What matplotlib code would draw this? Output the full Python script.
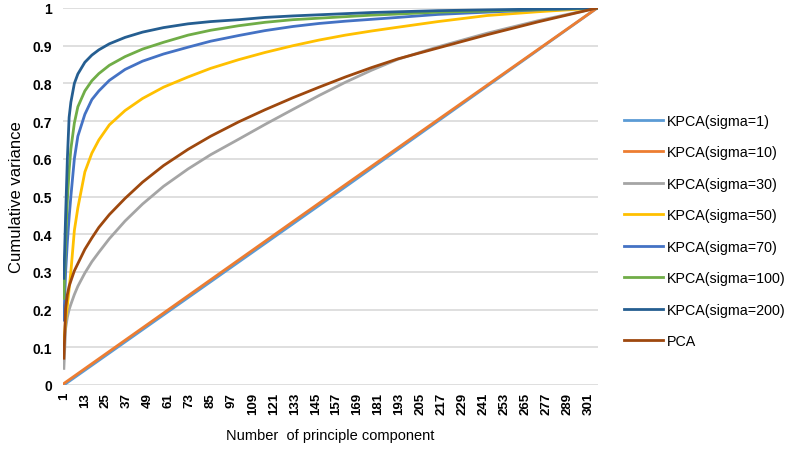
import matplotlib
matplotlib.use("Agg")
import matplotlib.pyplot as plt

plt.rcParams['font.family'] = ['Liberation Sans', 'DejaVu Sans']

# sampled principal component numbers
comp = [1, 2, 3, 4, 5, 7, 9, 13, 17, 21, 27, 36, 46, 58, 72, 85, 101, 116,
        132, 147, 162, 177, 192, 215, 243, 272, 306]
comp_lin = [1, 153, 306]

sigma1 = [0.0, 0.496, 1.0]
sigma10 = [0.004, 0.502, 1.0]
sigma30 = [0.044, 0.15, 0.18, 0.20, 0.214, 0.24, 0.262, 0.297, 0.327, 0.352,
           0.388, 0.435, 0.48, 0.527, 0.573, 0.611, 0.652, 0.691, 0.731,
           0.768, 0.803, 0.835, 0.864, 0.897, 0.933, 0.966, 1.0]
sigma50 = [0.115, 0.17, 0.21, 0.255, 0.30, 0.41, 0.47, 0.565, 0.615, 0.65,
           0.69, 0.728, 0.76, 0.79, 0.817, 0.84, 0.863, 0.882, 0.900,
           0.915, 0.928, 0.939, 0.949, 0.964, 0.980, 0.990, 1.0]
sigma70 = [0.172, 0.30, 0.38, 0.445, 0.50, 0.60, 0.66, 0.718, 0.757, 0.78,
           0.808, 0.837, 0.859, 0.878, 0.896, 0.912, 0.927, 0.94, 0.951,
           0.959, 0.965, 0.970, 0.975, 0.983, 0.989, 0.995, 1.0]
sigma100 = [0.23, 0.38, 0.49, 0.57, 0.626, 0.695, 0.738, 0.78, 0.807, 0.826,
            0.848, 0.871, 0.891, 0.909, 0.928, 0.941, 0.953, 0.962, 0.969,
            0.973, 0.977, 0.981, 0.984, 0.989, 0.992, 0.996, 1.0]
sigma200 = [0.283, 0.45, 0.60, 0.71, 0.75, 0.80, 0.825, 0.856, 0.875, 0.889,
            0.905, 0.922, 0.936, 0.948, 0.958, 0.964, 0.969, 0.975, 0.979,
            0.982, 0.985, 0.988, 0.990, 0.993, 0.995, 0.997, 1.0]
pca = [0.071, 0.203, 0.24, 0.262, 0.276, 0.303, 0.322, 0.36, 0.39, 0.418,
       0.452, 0.495, 0.538, 0.582, 0.625, 0.66, 0.698, 0.73, 0.762, 0.79,
       0.817, 0.842, 0.865, 0.894, 0.929, 0.963, 1.0]

xticks = list(range(1, 302, 12))
yticks = [0, 0.1, 0.2, 0.3, 0.4, 0.5, 0.6, 0.7, 0.8, 0.9, 1]
ylabels = ['0', '0.1', '0.2', '0.3', '0.4', '0.5', '0.6', '0.7', '0.8', '0.9', '1']

fig = plt.figure(figsize=(7.89, 4.52), dpi=100)
ax = fig.add_axes([63 / 789, 1 - 386 / 452, (598 - 63) / 789, (386 - 9) / 452])

lw = 2.0
ax.plot(comp_lin, sigma1, color='#5B9BD5', lw=lw, label='KPCA(sigma=1)')
ax.plot(comp_lin, sigma10, color='#ED7D31', lw=lw, label='KPCA(sigma=10)')
ax.plot(comp, sigma30, color='#A5A5A5', lw=lw, label='KPCA(sigma=30)')
ax.plot(comp, sigma50, color='#FFC000', lw=lw, label='KPCA(sigma=50)')
ax.plot(comp, sigma70, color='#4472C4', lw=lw, label='KPCA(sigma=70)')
ax.plot(comp, sigma100, color='#70AD47', lw=lw, label='KPCA(sigma=100)')
ax.plot(comp, sigma200, color='#255E91', lw=lw, label='KPCA(sigma=200)')
ax.plot(comp, pca, color='#9E480E', lw=lw, label='PCA')

ax.set_xlim(0.5, 306.5)
ax.set_ylim(0, 1)
ax.set_xticks(xticks)
ax.set_xticklabels([str(t) for t in xticks], rotation=90, fontsize=9.5,
                   fontweight='bold')
ax.set_yticks(yticks)
ax.set_yticklabels(ylabels, fontsize=10, fontweight='bold')
ax.tick_params(length=0)
ax.tick_params(axis='y', pad=8)
ax.tick_params(axis='x', pad=5)
ax.grid(axis='y', color='#D9D9D9', lw=1.2)
ax.set_axisbelow(True)
for s in ['top', 'right', 'left', 'bottom']:
    ax.spines[s].set_visible(False)

ax.set_xlabel('Number  of principle component', fontsize=10.5, labelpad=10)
ax.set_ylabel('Cumulative variance', fontsize=12, labelpad=6)

fig.legend(loc='upper left', bbox_to_anchor=(624 / 789, 1 - 115 / 452),
           frameon=False, fontsize=10.3, handlelength=2.7, handletextpad=0.3,
           labelspacing=1.22, borderpad=0, borderaxespad=0)

fig.savefig('out.png', dpi=100)
